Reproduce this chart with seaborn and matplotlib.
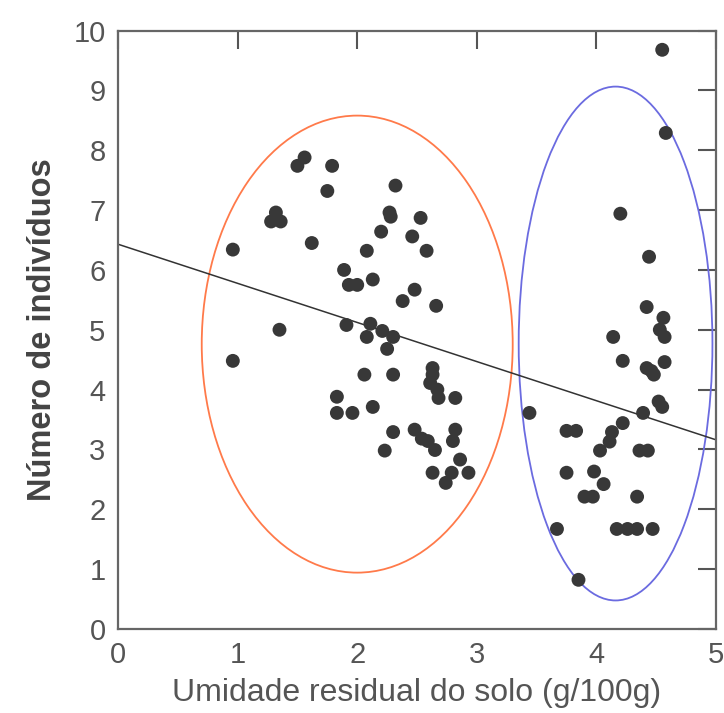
import numpy as np
import pandas as pd
import matplotlib
matplotlib.use("Agg")
import matplotlib.pyplot as plt
from matplotlib.patches import Ellipse
import seaborn as sns

# ---- data ----
x_vals = [0.96, 0.96, 1.32, 1.28, 1.36, 1.35, 1.50, 1.56, 1.79, 1.75,
          1.62, 1.89, 1.93, 2.00, 2.13, 1.91, 2.11, 2.08, 2.21, 2.30,
          2.25, 2.06, 2.30, 2.32, 2.27, 2.28, 2.53, 2.20, 2.46, 2.08,
          2.58, 2.48, 2.38, 2.66, 2.63, 2.63, 2.61, 2.67, 2.68, 2.82,
          1.83, 1.83, 1.96, 2.13, 2.30, 2.48, 2.54, 2.59, 2.65, 2.82,
          2.80, 2.23, 2.86, 2.63, 2.79, 2.93, 2.74,
          4.55, 4.58, 4.20, 4.44, 4.42, 4.56, 4.53, 4.57, 4.14, 4.22,
          4.57, 4.42, 4.46, 4.48, 4.52, 4.55, 4.39, 3.44, 3.75, 3.83,
          4.22, 4.13, 4.11, 4.03, 4.36, 4.43, 3.75, 3.98, 4.06, 3.90,
          3.97, 4.34, 3.67, 4.17, 4.26, 4.34, 4.47, 3.85]
y_vals = [6.34, 4.48, 6.96, 6.81, 6.81, 5.00, 7.74, 7.88, 7.74, 7.32,
          6.45, 6.00, 5.75, 5.75, 5.84, 5.08, 5.10, 4.88, 4.98, 4.88,
          4.68, 4.25, 4.25, 7.41, 6.96, 6.89, 6.87, 6.64, 6.56, 6.32,
          6.32, 5.67, 5.48, 5.40, 4.36, 4.25, 4.11, 4.00, 3.86, 3.86,
          3.88, 3.61, 3.61, 3.71, 3.29, 3.33, 3.18, 3.14, 2.99, 3.33,
          3.14, 2.98, 2.83, 2.61, 2.61, 2.61, 2.44,
          9.68, 8.29, 6.94, 6.22, 5.38, 5.20, 5.00, 4.88, 4.88, 4.48,
          4.46, 4.36, 4.31, 4.25, 3.80, 3.71, 3.61, 3.61, 3.31, 3.31,
          3.44, 3.29, 3.13, 2.98, 2.98, 2.98, 2.61, 2.63, 2.42, 2.21,
          2.21, 2.21, 1.67, 1.67, 1.67, 1.67, 1.67, 0.82]

line_x = [0.0, 5.0]
line_y = [6.43, 3.16]

x_ticks = [0, 1, 2, 3, 4, 5]
y_ticks = [0, 1, 2, 3, 4, 5, 6, 7, 8, 9, 10]

# ellipses: (center_x, center_y, width, height)
ellipse_orange = [2.0, 4.76, 2.60, 7.64]
ellipse_blue = [4.16, 4.77, 1.62, 8.59]

x_label = "Umidade residual do solo (g/100g)"
y_label = "Número de indivíduos"

# ---- plotting ----
sns.set_style("white")
plt.rcParams['font.family'] = ['Liberation Sans', 'DejaVu Sans']

fig = plt.figure(figsize=(7.24, 7.13), dpi=100)
ax = fig.add_axes([0.163, 0.118, 0.826, 0.839])

df = pd.DataFrame({"x": x_vals, "y": y_vals})
sns.scatterplot(data=df, x="x", y="y", ax=ax, s=100, color="#383838",
                edgecolor="none", zorder=3)
sns.lineplot(x=line_x, y=line_y, ax=ax, color="#333333", linewidth=1.1,
             zorder=2)

for (cx, cy, w, h), col in [(ellipse_orange, "#ff7a4a"), (ellipse_blue, "#6b6be0")]:
    ax.add_patch(Ellipse((cx, cy), w, h, fill=False, edgecolor=col,
                         linewidth=1.3, zorder=1))

ax.set_xlim(0, 5)
ax.set_ylim(0, 10)
ax.set_xticks(x_ticks)
ax.set_yticks(y_ticks)
ax.set_xticklabels([str(t) for t in x_ticks])
ax.set_yticklabels([str(t) for t in y_ticks])

ax.tick_params(axis="both", direction="in", length=13, width=1.5,
               color="#555555", labelsize=21, labelcolor="#555555",
               top=True, right=True, pad=9)
for sp in ax.spines.values():
    sp.set_visible(True)
    sp.set_color("#666666")
    sp.set_linewidth(1.6)

ax.set_xlabel(x_label, fontsize=23, color="#555555", labelpad=6)
ax.set_ylabel(y_label, fontsize=23.5, color="#444444", fontweight="bold",
              labelpad=11)

fig.savefig("out.png", dpi=100)
